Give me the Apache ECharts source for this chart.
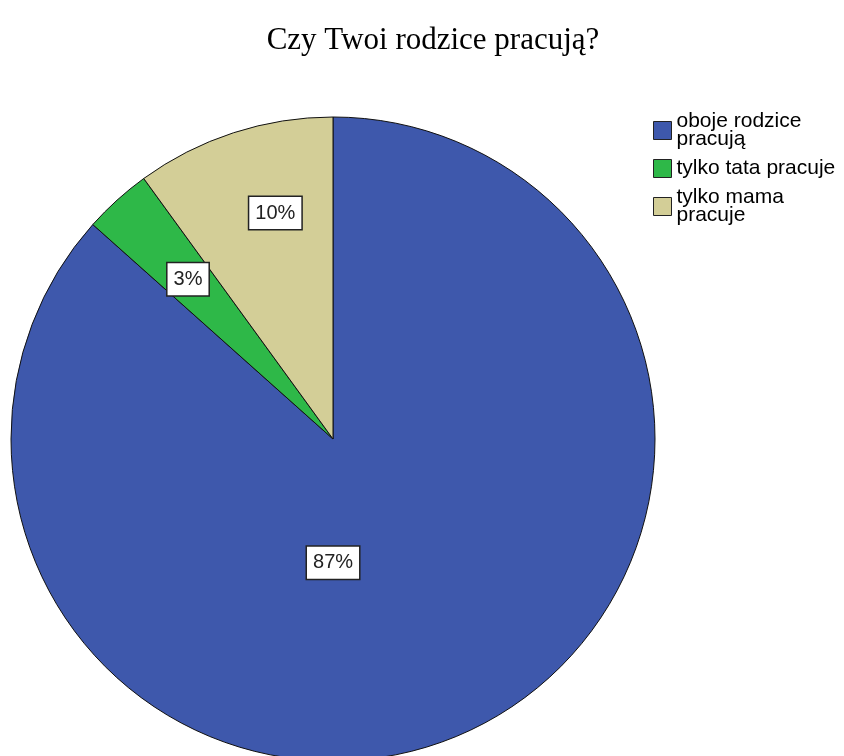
<!DOCTYPE html>
<html>
<head>
<meta charset="utf-8">
<script src="https://cdn.jsdelivr.net/npm/echarts@6/dist/echarts.min.js"></script>
<style>html,body{margin:0;padding:0;background:#fff;}#c{width:844px;height:756px;}</style>
</head>
<body>
<div id="c"></div>
<script>
var categories = ['oboje rodzice\npracują', 'tylko tata pracuje', 'tylko mama\npracuje'];
var values = [86.6, 3.4, 10.0];
var colors = ['#3E58AC', '#2EB848', '#D3CE97'];
var labelOffsets = [[-67, -26], [-35, -38], [-7, -70]];

var chart = echarts.init(document.getElementById('c'), null, {renderer: 'canvas'});
chart.setOption({
  backgroundColor: '#ffffff',
  animation: false,
  title: {
    text: 'Czy Twoi rodzice pracują?',
    left: 428, textAlign: 'center', top: 20,
    textStyle: {fontFamily: 'Liberation Serif', fontWeight: 'normal', fontSize: 31, color: '#000'}
  },
  legend: {
    orient: 'vertical', left: 648, top: 106,
    itemWidth: 18, itemHeight: 18, itemGap: 8,
    icon: 'rect',
    itemStyle: {borderColor: '#222', borderWidth: 1},
    textStyle: {fontFamily: 'Liberation Sans', fontSize: 21, lineHeight: 18, color: '#000'},
    data: categories
  },
  series: [{
    type: 'pie',
    center: [333, 439],
    radius: 322,
    startAngle: 90,
    clockwise: true,
    avoidLabelOverlap: false,
    data: categories.map(function (n, i) {
      return {name: n, value: values[i], itemStyle: {color: colors[i]}};
    }),
    itemStyle: {borderColor: '#111', borderWidth: 1},
    emphasis: {disabled: true},
    label: {
      show: true, position: 'inside',
      formatter: function (p) { return Math.round(p.percent) + '%'; },
      fontFamily: 'Liberation Sans', fontSize: 20, color: '#222',
      backgroundColor: '#fff', borderColor: '#222', borderWidth: 1.5,
      padding: [6, 6, 6, 6]
    },
    labelLine: {show: false},
    labelLayout: function (p) {
      var o = labelOffsets[p.dataIndex];
      return {dx: o[0], dy: o[1]};
    }
  }]
});
</script>
</body>
</html>
